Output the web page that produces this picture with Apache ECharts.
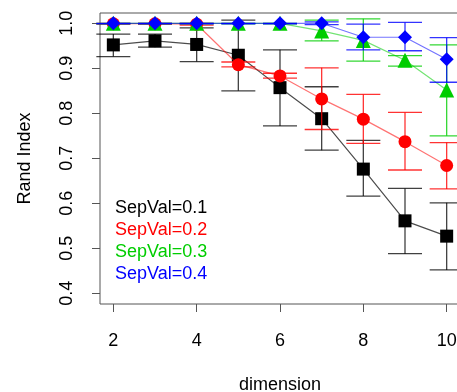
<!DOCTYPE html>
<html>
<head>
<meta charset="utf-8">
<script src="https://cdn.jsdelivr.net/npm/echarts@6/dist/echarts.min.js"></script>
<style>
  html, body { margin: 0; padding: 0; background: #fff; }
  #chart { width: 457px; height: 392px; }
</style>
</head>
<body>
<div id="chart"></div>
<script>
const dims = [2, 3, 4, 5, 6, 7, 8, 9, 10]
const xTicks = [2, 4, 6, 8, 10]
const yTicks = [0.4, 0.5, 0.6, 0.7, 0.8, 0.9, 1.0]

const names = ['SepVal=0.1', 'SepVal=0.2', 'SepVal=0.3', 'SepVal=0.4']

const mean01 = [0.952, 0.961, 0.953, 0.929, 0.857, 0.788, 0.676, 0.561, 0.527]
const low01  = [0.926, 0.947, 0.915, 0.850, 0.772, 0.718, 0.616, 0.488, 0.452]
const high01 = [0.976, 0.976, 0.990, 1.007, 0.941, 0.859, 0.740, 0.633, 0.601]

const mean02 = [0.999, 0.999, 0.998, 0.908, 0.883, 0.832, 0.787, 0.737, 0.684]
const low02  = [0.998, 0.998, 0.996, 0.903, 0.878, 0.764, 0.733, 0.674, 0.632]
const high02 = [1.000, 1.000, 1.000, 0.914, 0.889, 0.901, 0.842, 0.802, 0.735]

const mean03 = [1.000, 1.000, 1.000, 1.000, 1.000, 0.983, 0.962, 0.918, 0.852]
const low03  = [0.999, 0.999, 0.999, 0.999, 0.999, 0.961, 0.916, 0.905, 0.750]
const high03 = [1.000, 1.000, 1.000, 1.000, 1.000, 1.007, 1.010, 0.928, 0.952]

const mean04 = [1.000, 1.000, 1.000, 1.000, 1.000, 1.000, 0.969, 0.969, 0.920]
const low04  = [0.999, 0.999, 0.999, 0.999, 0.999, 0.997, 0.941, 0.939, 0.869]
const high04 = [1.000, 1.000, 1.000, 1.000, 1.000, 1.003, 0.998, 1.002, 0.968]

const chart = echarts.init(document.getElementById('chart'))
const font = "'Liberation Sans', Arial, Helvetica, sans-serif"

// one group per SepVal: colour, symbol, connecting-line colour
const groups = [
  { name: names[0], mean: mean01, low: low01, high: high01, color: '#000000', line: 'rgba(0,0,0,0.7)', bar: 'rgba(0,0,0,0.75)', symbol: 'rect', size: 13 },
  { name: names[1], mean: mean02, low: low02, high: high02, color: '#ff0000', line: 'rgba(255,0,0,0.55)', bar: 'rgba(255,0,0,0.8)', symbol: 'circle', size: 13 },
  { name: names[2], mean: mean03, low: low03, high: high03, color: '#00cd00', line: 'rgba(0,205,0,0.55)', bar: 'rgba(0,205,0,0.8)', symbol: 'triangle', size: 15 },
  { name: names[3], mean: mean04, low: low04, high: high04, color: '#0000ff', line: 'rgba(0,0,255,0.55)', bar: 'rgba(0,0,255,0.8)', symbol: 'diamond', size: 14 }
]

const series = []
groups.forEach((g, i) => {
  series.push({
    name: g.name,
    type: 'line',
    z: 2 + i * 2,
    data: dims.map((d, k) => [d, g.mean[k]]),
    symbol: g.symbol,
    symbolSize: g.size,
    itemStyle: { color: g.color },
    lineStyle: { color: g.line, width: 1.2 },
    animation: false
  })
  series.push({
    name: g.name,
    type: 'custom',
    z: 3 + i * 2,
    data: dims.map((d, k) => [d, g.low[k], g.high[k]]),
    renderItem: (params, api) => {
      const lo = api.coord([api.value(0), api.value(1)])
      const hi = api.coord([api.value(0), api.value(2)])
      const half = 17
      const style = { stroke: g.bar, lineWidth: 1.3 }
      return {
        type: 'group',
        children: [
          { type: 'line', shape: { x1: lo[0], y1: lo[1], x2: hi[0], y2: hi[1] }, style },
          { type: 'line', shape: { x1: lo[0] - half, y1: lo[1], x2: lo[0] + half, y2: lo[1] }, style },
          { type: 'line', shape: { x1: hi[0] - half, y1: hi[1], x2: hi[0] + half, y2: hi[1] }, style }
        ]
      }
    },
    animation: false
  })
})

const option = {
  backgroundColor: '#fff',
  textStyle: { fontFamily: font },
  grid: {
    left: 100, top: 13, width: 360, height: 291,
    outerBoundsMode: 'none',
    containLabel: false,
    show: true, borderColor: '#555', borderWidth: 1
  },
  legend: {
    orient: 'vertical',
    left: 105,
    top: 194,
    itemGap: 4,
    itemWidth: 0,
    icon: 'none',
    selectedMode: false,
    data: groups.map(g => ({ name: g.name, textStyle: { color: g.color } })),
    textStyle: { fontSize: 18, fontFamily: font }
  },
  xAxis: {
    type: 'value',
    min: 1.68, max: 10.32,
    name: 'dimension',
    nameLocation: 'middle',
    nameGap: 72,
    nameTextStyle: { fontSize: 18, color: '#000', fontFamily: font },
    axisLine: { show: false },
    axisTick: { show: true, length: 8, customValues: xTicks, lineStyle: { color: '#555' } },
    axisLabel: { customValues: xTicks, fontSize: 18, color: '#000', margin: 28 },
    splitLine: { show: false }
  },
  yAxis: {
    type: 'value',
    min: 0.3762, max: 1.0229,
    name: 'Rand Index',
    nameLocation: 'middle',
    nameGap: 66,
    nameRotate: 90,
    nameTextStyle: { fontSize: 18, color: '#000', fontFamily: font },
    axisLine: { show: false },
    axisTick: { show: true, length: 8, customValues: yTicks, lineStyle: { color: '#555' } },
    axisLabel: {
      customValues: yTicks, fontSize: 18, color: '#000', margin: 24, rotate: 90,
      formatter: v => v.toFixed(1)
    },
    splitLine: { show: false }
  },
  series
}

chart.setOption(option)
</script>
</body>
</html>
